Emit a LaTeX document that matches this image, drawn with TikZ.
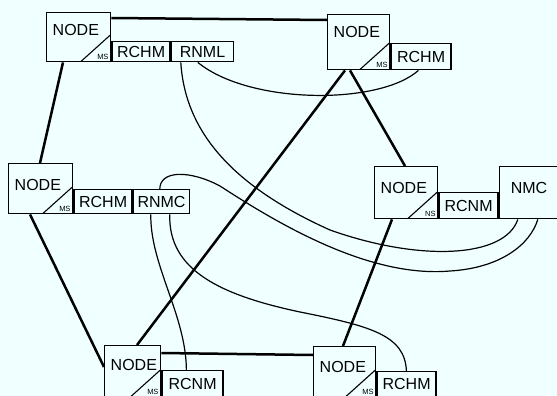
\documentclass[tikz,border=0pt]{standalone}
\usepackage{fontspec}
\setmainfont{Liberation Sans}
\definecolor{paper}{RGB}{240,255,255}

\begin{document}
\begin{tikzpicture}[x=1pt,y=-1pt,
	site/.style={draw, line width=1.4pt, font=\fontsize{16}{18}\selectfont, align=left,
		inner xsep=6pt, inner ysep=0pt, text width=52pt, text height=24pt, text depth=25pt,
		path picture={
			\draw[line width=1.1pt] ([xshift=-30pt]path picture bounding box.south east) -- ([yshift=27pt]path picture bounding box.south east);
			\node[font=\fontsize{7.5}{8}\selectfont, anchor=south east, inner sep=1.5pt, text width={}, align=right,
				text height=5.5pt, text depth=0pt] at (path picture bounding box.south east) {#1};}},
	port/.style={draw, line width=1.4pt, font=\fontsize{16}{18}\selectfont, inner sep=0pt,
		text height=11.5pt, text depth=0pt, minimum width=58pt, minimum height=24pt},
	trunk/.style={line width=2.5pt},
	link/.style={line width=1.2pt}]
	\useasboundingbox (0,0) rectangle (557,396);
	\fill[paper] (0,0) rectangle (557,396);
	\clip (0,0) rectangle (557,396);

	% switching nodes
	\node[site=MS, anchor=north west, text height=23pt, text depth=26pt] (nodeNW) at (46,12) {NODE};
	\node[site=MS, anchor=north west, text height=23pt, text depth=32pt, text width=50pt] (nodeNE) at (327,14) {NODE};
	\node[site=MS, anchor=north west, text height=27pt, text depth=23pt] (nodeW) at (8,163) {NODE};
	\node[site=NS, anchor=north west, text height=27pt, text depth=25pt, text width=51pt] (nodeE) at (374,166) {NODE};
	\node[site=MS, anchor=north west, text height=25pt, text depth=26pt, text width=44pt] (nodeSW) at (104,345) {NODE};
	\node[site=MS, anchor=north west, text height=26pt, text depth=24pt, text width=50pt] (nodeSE) at (313,346) {NODE};

	% attached modules
	\node[port, minimum height=20pt, anchor=south west] (rchmNW) at (nodeNW.south east) {RCHM};
	\node[port, minimum height=20pt, minimum width=62pt, anchor=south west] (rnmlNW) at (rchmNW.south east) {RNML};
	\node[port, minimum height=26pt, minimum width=60pt, anchor=south west] (rchmNE) at (nodeNE.south east) {RCHM};
	\node[port, anchor=south west] (rchmW) at (nodeW.south east) {RCHM};
	\node[port, minimum width=56pt, anchor=south west] (rnmcW) at (rchmW.south east) {RNMC};
	\node[port, minimum height=26pt, minimum width=59pt, anchor=south west] (rcnmE) at (nodeE.south east) {RCNM};
	\node[port, minimum height=0pt, text height=27pt, text depth=25pt, minimum width=59pt, anchor=south west] (nmc) at (rcnmE.south east) {NMC};
	\node[port, minimum height=26pt, minimum width=61pt, anchor=south west] (rcnmSW) at (nodeSW.south east) {RCNM};
	\node[port, minimum height=25pt, minimum width=59pt, anchor=south west] (rchmSE) at (nodeSE.south east) {RCHM};

	% trunks
	\draw[trunk] ([yshift=-6pt]nodeNW.north east) -- ([yshift=-6pt]nodeNE.north west);
	\draw[trunk] ([xshift=17pt]nodeNW.south west) -- ([xshift=32pt]nodeW.north west);
	\draw[trunk] ([xshift=22pt]nodeW.south west) -- ([yshift=-22pt]nodeSW.north west);
	\draw[trunk] ([xshift=18pt]nodeNE.south west) -- ([xshift=33pt]nodeSW.north west);
	\draw[trunk] ([xshift=23pt]nodeNE.south west) -- ([xshift=31pt]nodeE.north west);
	\draw[trunk] ([xshift=18pt]nodeE.south west) -- ([xshift=30pt]nodeSE.north west);
	\draw[trunk] ([yshift=-8pt]nodeSW.north east) -- ([yshift=-9pt]nodeSE.north west);

	% control links
	\draw[link] ([xshift=10pt]rnmlNW.south west) .. controls (185,130) and (230,185) .. (330,230)
		.. controls (420,262) and (505,258) .. ([xshift=19pt]nmc.south west);
	\draw[link] ([xshift=27pt]rnmlNW.south west) .. controls (250,105) and (380,105) .. ([xshift=28pt]rchmNE.south west);
	\draw[link] ([xshift=27pt]rnmcW.north west) .. controls (160,170) and (190,170) .. (220,186)
		.. controls (280,225) and (370,278) .. (450,271)
		.. controls (500,268) and (530,245) .. ([xshift=39pt]nmc.south west);
	\draw[link] ([xshift=37pt]rnmcW.south west) .. controls (168,270) and (220,295) .. (300,312)
		.. controls (370,326) and (405,335) .. ([xshift=30pt]rchmSE.north west);
	\draw[link] ([xshift=18pt]rnmcW.south west) .. controls (150,265) and (186,315) .. ([xshift=25pt]rcnmSW.north west);
\end{tikzpicture}
\end{document}
